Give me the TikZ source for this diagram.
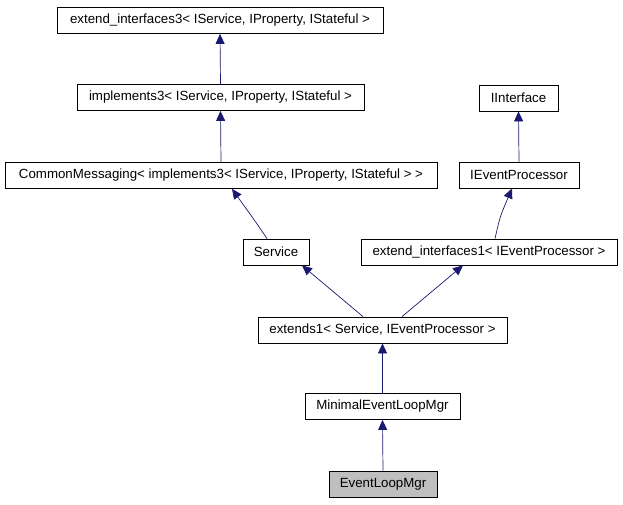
\documentclass[tikz,border=0pt]{standalone}
\usepackage{fontspec}
\setmainfont{Liberation Sans}
\usetikzlibrary{arrows.meta}
\definecolor{edgeblue}{RGB}{25,25,112}
\definecolor{curgray}{RGB}{191,191,191}
\tikzset{
  cls/.style={draw=black, line width=0.8pt, fill=white, inner sep=0pt, minimum height=26pt, font=\fontsize{13.3}{15}\selectfont, text=black},
  cur/.style={cls, fill=curgray},
  inh/.style={draw=edgeblue, line width=0.7pt, -{Triangle[length=10pt,width=9pt]}, color=edgeblue},
}
\begin{document}
\begin{tikzpicture}[x=1pt,y=-1pt]
\useasboundingbox (0,0) rectangle (623,504);
\node[cls, minimum width=326pt] (ei3) at (220,20.5) {extend\_interfaces3< IService, IProperty, IStateful >};
\node[cls, minimum width=287pt] (imp3) at (220.5,97.5) {implements3< IService, IProperty, IStateful >};
\node[cls, minimum width=432pt] (cm) at (221,175.5) {CommonMessaging< implements3< IService, IProperty, IStateful > >};
\node[cls, minimum width=79pt] (ii) at (518.5,98) {IInterface};
\node[cls, minimum width=120pt] (iep) at (519,175) {IEventProcessor};
\node[cls, minimum width=66pt] (svc) at (276,252) {Service};
\node[cls, minimum width=256pt] (ei1) at (489,252) {extend\_interfaces1< IEventProcessor >};
\node[cls, minimum width=249pt] (ext1) at (382.5,330) {extends1< Service, IEventProcessor >};
\node[cls, minimum width=155pt] (mel) at (382.5,406.5) {MinimalEventLoopMgr};
\node[cur, minimum width=108pt] (elm) at (383,484) {EventLoopMgr};

\draw[inh] (imp3.north) -- (ei3.south);
\draw[inh] (cm.north) -- (imp3.south);
\draw[inh] (iep.north) -- (ii.south);
\draw[inh] ([xshift=-9pt]svc.north) .. controls ([xshift=-17pt,yshift=12pt]svc.north) .. ([xshift=11pt]cm.south);
\draw[inh] ([xshift=6pt]ei1.north) .. controls ([xshift=11pt,yshift=22pt]ei1.north) .. ([xshift=-7pt]iep.south);
\draw[inh] ([xshift=-19.5pt]ext1.north) -- ([xshift=26pt]svc.south);
\draw[inh] ([xshift=19.5pt]ext1.north) -- ([xshift=-26pt]ei1.south);
\draw[inh] (mel.north) -- (ext1.south);
\draw[inh] (elm.north) -- (mel.south);
\end{tikzpicture}
\end{document}
